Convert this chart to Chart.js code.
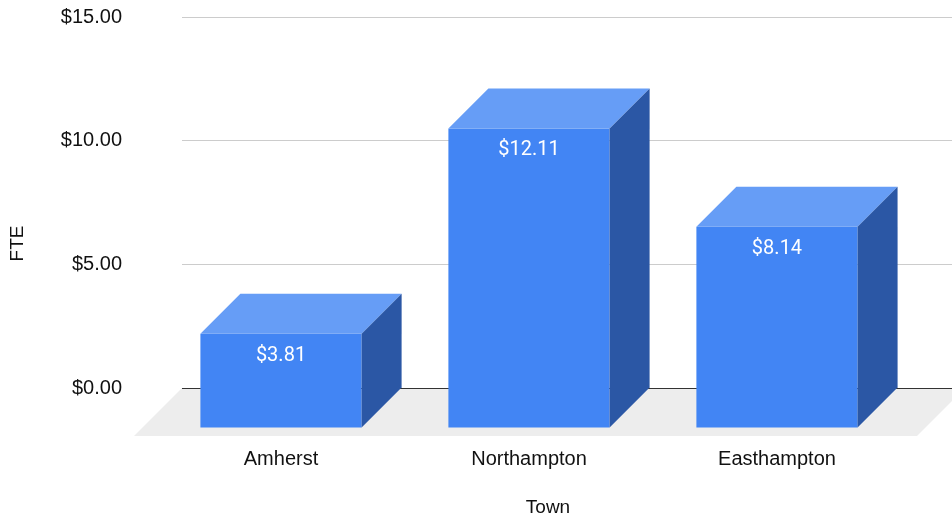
<!DOCTYPE html>
<html>
<head>
<meta charset="utf-8">
<script src="https://cdn.jsdelivr.net/npm/chart.js@4"></script>
<style>
  html, body { margin: 0; padding: 0; background: #fff; }
  #wrap { width: 952px; height: 518px; position: relative; }
</style>
</head>
<body>
<div id="wrap"><canvas id="fteChart"></canvas></div>
<script>
const towns = ['Amherst', 'Northampton', 'Easthampton'];
const fteValues = [3.81, 12.11, 8.14];
const yTicks = [0, 5, 10, 15];

const DEPTH = 40;       // bar depth offset (px)
const FLOOR_DEPTH = 48; // floor depth offset (px)

const barFront = '#4285F4';
const barTop = '#669DF6';
const barSide = '#2B57A5';
const floorColor = '#EDEDED';
const textColor = '#111111';
const fontFamily = '"Liberation Sans", Arial, sans-serif';

// floor under everything (before grid), then bars shifted forward with top/side faces
const fakeThreeD = {
    id: 'fakeThreeD',
    beforeDraw(chart) {
        const ctx = chart.ctx;
        const area = chart.chartArea;
        const y0 = chart.scales.y.getPixelForValue(0);

        ctx.save();
        ctx.fillStyle = floorColor;
        ctx.beginPath();
        ctx.moveTo(area.left, y0);
        ctx.lineTo(area.right + 13, y0);
        ctx.lineTo(area.right + 13 - FLOOR_DEPTH, y0 + FLOOR_DEPTH);
        ctx.lineTo(area.left - FLOOR_DEPTH, y0 + FLOOR_DEPTH);
        ctx.closePath();
        ctx.fill();
        ctx.restore();
    },
    beforeDatasetsDraw(chart) {
        // front faces are drawn by Chart.js, pushed forward
        chart.ctx.save();
        chart.ctx.translate(-DEPTH, DEPTH);
    },
    afterDatasetsDraw(chart) {
        const ctx = chart.ctx;
        ctx.restore();

        const meta = chart.getDatasetMeta(0);
        ctx.save();
        meta.data.forEach((bar, i) => {
            const p = bar.getProps(['x', 'y', 'base', 'width'], true);
            const l = p.x - p.width / 2;
            const r = p.x + p.width / 2;

            // top face
            ctx.fillStyle = barTop;
            ctx.beginPath();
            ctx.moveTo(l - DEPTH, p.y + DEPTH);
            ctx.lineTo(r - DEPTH, p.y + DEPTH);
            ctx.lineTo(r, p.y);
            ctx.lineTo(l, p.y);
            ctx.closePath();
            ctx.fill();

            // side face
            ctx.fillStyle = barSide;
            ctx.beginPath();
            ctx.moveTo(r - DEPTH, p.y + DEPTH);
            ctx.lineTo(r, p.y);
            ctx.lineTo(r, p.base);
            ctx.lineTo(r - DEPTH, p.base + DEPTH);
            ctx.closePath();
            ctx.fill();

            // value label
            ctx.fillStyle = '#ffffff';
            ctx.font = '20px Roboto, "Liberation Sans", sans-serif';
            ctx.textAlign = 'center';
            ctx.textBaseline = 'middle';
            ctx.fillText('$' + fteValues[i].toFixed(2), p.x - DEPTH, p.y + DEPTH + 22);
        });
        ctx.restore();
    },
    afterDraw(chart) {
        // axis titles, placed like the original (not centred on the plot)
        const ctx = chart.ctx;
        const area = chart.chartArea;
        ctx.save();
        ctx.fillStyle = textColor;
        ctx.font = '19px ' + fontFamily;
        ctx.textAlign = 'center';
        ctx.textBaseline = 'middle';
        ctx.fillText('Town', (area.left - FLOOR_DEPTH + area.right) / 2 + 5, chart.height - 10);
        ctx.translate(18, (area.top + area.bottom) / 2 + 41);
        ctx.rotate(-Math.PI / 2);
        ctx.fillText('FTE', 0, 0);
        ctx.restore();
    }
};

const axisFont = { family: fontFamily, size: 20 };

new Chart(document.getElementById('fteChart'), {
    type: 'bar',
    data: {
        datasets: [{
            label: 'FTE',
            data: towns.map((t, i) => ({ x: i, y: fteValues[i] })),
            backgroundColor: barFront,
            borderWidth: 0,
            barPercentage: 0.65,
            categoryPercentage: 1
        }]
    },
    options: {
        responsive: true,
        maintainAspectRatio: false,
        animation: false,
        events: [],
        layout: { padding: { top: 17, right: 0, bottom: 0, left: 0 } },
        plugins: {
            legend: { display: false },
            tooltip: { enabled: false }
        },
        scales: {
            x: {
                type: 'linear',
                offset: false,
                bounds: 'data',
                min: -0.5605,
                max: 2.5444,
                grid: { display: false, drawTicks: false, offset: false },
                border: { display: false },
                afterBuildTicks: (scale) => {
                    scale.ticks = towns.map((t, i) => ({ value: i }));
                },
                afterFit: (scale) => {
                    scale.height = 130;
                    scale.paddingLeft = 0;
                    scale.paddingRight = 0;
                },
                ticks: {
                    color: textColor,
                    font: axisFont,
                    padding: 59,
                    labelOffset: -DEPTH,
                    maxRotation: 0,
                    autoSkip: false,
                    callback: (v) => towns[v]
                }
            },
            y: {
                min: 0,
                max: 15,
                afterBuildTicks: (scale) => {
                    scale.ticks = yTicks.map(v => ({ value: v }));
                },
                afterFit: (scale) => {
                    scale.width = 182;
                    scale.paddingTop = 0;
                    scale.paddingBottom = 0;
                },
                grid: {
                    drawTicks: false,
                    color: (c) => (c.tick && c.tick.value === 0 ? '#333333' : '#cccccc'),
                    lineWidth: 1
                },
                border: { display: false },
                ticks: {
                    color: textColor,
                    font: axisFont,
                    padding: 60,
                    callback: (v) => '$' + Number(v).toFixed(2)
                }
            }
        }
    },
    plugins: [fakeThreeD]
});
</script>
</body>
</html>
